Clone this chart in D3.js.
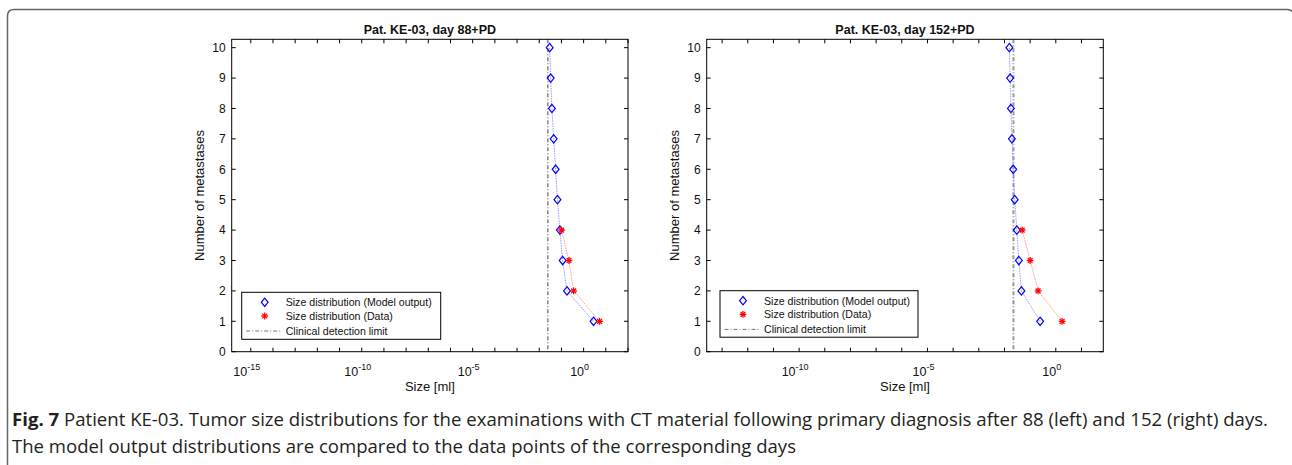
<!DOCTYPE html>
<html>
<head>
<meta charset="utf-8">
<script src="https://cdn.jsdelivr.net/npm/d3@7"></script>
<style>
  body { margin: 0; background: #fff; }
  svg { display: block; }
  .ax text { font-family: "Liberation Sans", Arial, sans-serif; }
</style>
</head>
<body>
<svg id="chart" width="1292" height="465"></svg>
<script>
// number of metastases (y values)
const counts = [1, 2, 3, 4, 5, 6, 7, 8, 9, 10];
const dataCounts = [1, 2, 3, 4];

// sizes in ml
const model88 = [2.8, 0.178, 0.1135, 0.085, 0.066, 0.055, 0.0447, 0.0372, 0.0327, 0.0295];
const data88 = [5.2, 0.355, 0.219, 0.100];
const model152 = [0.245, 0.0457, 0.0363, 0.0302, 0.0251, 0.0219, 0.0195, 0.0178, 0.0166, 0.0155];
const data152 = [1.76, 0.204, 0.100, 0.049];
const detectionLimit = [0.0245, 0.0224];

const titles = ['Pat. KE-03, day 88+PD', 'Pat. KE-03, day 152+PD'];
const xDomains = [[Math.pow(10, -15.86), 100], [Math.pow(10, -13.6), Math.pow(10, 1.85)]];
const yTicks = [0, 1, 2, 3, 4, 5, 6, 7, 8, 9, 10];
const legendLabels = ['Size distribution (Model output)', 'Size distribution (Data)', 'Clinical detection limit'];

const svg = d3.select('#chart');

// figure frame
svg.append('path')
  .attr('d', 'M7.5,470 V16 Q7.5,9.5 14,9.5 H1287 Q1292,9.5 1294,14')
  .attr('fill', 'none')
  .attr('stroke', '#666')
  .attr('stroke-width', 1.5);

const panels = [
  { left: 231.7, right: 628, model: model88, data: data88, det: detectionLimit[0], legend: { x: 241.7, y: 292.3, w: 199, h: 47 } },
  { left: 706.7, right: 1103.3, model: model152, data: data152, det: detectionLimit[1], legend: { x: 720, y: 290.7, w: 198, h: 46.5 } }
];
const plotTop = 39.3, plotBottom = 351.7;

const diamond = (cx, cy) => `M${cx},${cy - 4.2} L${cx + 3.4},${cy} L${cx},${cy + 4.2} L${cx - 3.4},${cy} Z`;
const star = (g, cx, cy) => {
  const r = 3.4;
  for (let i = 0; i < 4; i++) {
    const a = i * Math.PI / 4;
    g.append('line')
      .attr('x1', cx - r * Math.cos(a)).attr('y1', cy - r * Math.sin(a))
      .attr('x2', cx + r * Math.cos(a)).attr('y2', cy + r * Math.sin(a))
      .attr('stroke', '#ff0000').attr('stroke-width', 1.3);
  }
};

panels.forEach((p, i) => {
  const g = svg.append('g').attr('class', 'ax');
  const x = d3.scaleLog().domain(xDomains[i]).range([p.left, p.right]);
  const y = d3.scaleLinear().domain([0, 10.275]).range([plotBottom, plotTop]);

  // decade ticks inside, top and bottom
  const lo = Math.ceil(Math.log10(xDomains[i][0]));
  const hi = Math.floor(Math.log10(xDomains[i][1]));
  const decades = d3.range(lo, hi + 1);
  decades.forEach(k => {
    const px = x(Math.pow(10, k));
    g.append('line').attr('x1', px).attr('x2', px).attr('y1', plotBottom).attr('y2', plotBottom - 4).attr('stroke', '#000');
    g.append('line').attr('x1', px).attr('x2', px).attr('y1', plotTop).attr('y2', plotTop + 4).attr('stroke', '#000');
    if (k % 5 === 0) {
      const t = g.append('text')
        .attr('x', px - 4).attr('y', plotBottom + 24)
        .attr('text-anchor', 'middle')
        .attr('font-size', 12.5)
        .attr('fill', '#111');
      t.append('tspan').text('10');
      t.append('tspan').attr('dy', -5.5).attr('font-size', 9).text(k);
    }
  });

  yTicks.forEach(v => {
    const py = y(v);
    g.append('line').attr('x1', p.left).attr('x2', p.left + 4).attr('y1', py).attr('y2', py).attr('stroke', '#000');
    g.append('line').attr('x1', p.right).attr('x2', p.right - 4).attr('y1', py).attr('y2', py).attr('stroke', '#000');
    g.append('text')
      .attr('x', p.left - 6).attr('y', py + 4.3)
      .attr('text-anchor', 'end')
      .attr('font-size', 12)
      .attr('fill', '#111')
      .text(v);
  });

  // detection limit
  g.append('line')
    .attr('x1', x(p.det)).attr('x2', x(p.det))
    .attr('y1', plotTop).attr('y2', plotBottom)
    .attr('stroke', i === 0 ? '#333' : '#999')
    .attr('stroke-width', i === 0 ? 0.9 : 2)
    .attr('stroke-dasharray', '4,2,1,2');

  // model line + data line
  const line = d3.line().x(d => x(d[0])).y(d => y(d[1]));
  g.append('path')
    .datum(p.model.map((v, j) => [v, counts[j]]))
    .attr('d', line)
    .attr('fill', 'none')
    .attr('stroke', '#8080ff')
    .attr('stroke-width', 0.8)
    .attr('stroke-dasharray', '1.5,1');
  g.append('path')
    .datum(p.data.map((v, j) => [v, dataCounts[j]]))
    .attr('d', line)
    .attr('fill', 'none')
    .attr('stroke', '#ff8080')
    .attr('stroke-width', 0.8)
    .attr('stroke-dasharray', '1.5,1');

  p.model.forEach((v, j) => {
    g.append('path').attr('d', diamond(x(v), y(counts[j])))
      .attr('fill', 'none').attr('stroke', '#0000ff').attr('stroke-width', 1.2);
  });
  p.data.forEach((v, j) => star(g, x(v), y(dataCounts[j])));

  // box
  g.append('rect')
    .attr('x', p.left).attr('y', plotTop)
    .attr('width', p.right - p.left).attr('height', plotBottom - plotTop)
    .attr('fill', 'none').attr('stroke', '#000').attr('stroke-width', 1);

  // title and labels
  g.append('text')
    .attr('x', (p.left + p.right) / 2).attr('y', 34)
    .attr('text-anchor', 'middle')
    .attr('font-size', 12.5).attr('font-weight', 'bold')
    .attr('fill', '#111')
    .text(titles[i]);
  g.append('text')
    .attr('x', (p.left + p.right) / 2).attr('y', 391)
    .attr('text-anchor', 'middle')
    .attr('font-size', 13)
    .attr('fill', '#111')
    .text('Size [ml]');
  g.append('text')
    .attr('transform', `translate(${p.left - 28},${(plotTop + plotBottom) / 2}) rotate(-90)`)
    .attr('text-anchor', 'middle')
    .attr('font-size', 13)
    .attr('fill', '#111')
    .text('Number of metastases');

  // legend
  const L = p.legend;
  const lg = g.append('g');
  lg.append('rect')
    .attr('x', L.x).attr('y', L.y).attr('width', L.w).attr('height', L.h)
    .attr('fill', '#fff').attr('stroke', '#000').attr('stroke-width', 1);
  const mx = L.x + 23, tx = L.x + 44;
  const rows = [L.y + 10, L.y + 23.7, L.y + 38.7];
  lg.append('path').attr('d', diamond(mx, rows[0]))
    .attr('fill', 'none').attr('stroke', '#0000ff').attr('stroke-width', 1.2);
  star(lg, mx, rows[1]);
  lg.append('line')
    .attr('x1', L.x + 4.5).attr('x2', L.x + 40).attr('y1', rows[2]).attr('y2', rows[2])
    .attr('stroke', '#666').attr('stroke-width', 0.9)
    .attr('stroke-dasharray', '4,2,1,2');
  legendLabels.forEach((s, j) => {
    lg.append('text')
      .attr('x', tx).attr('y', rows[j] + 4)
      .attr('font-size', 10.6)
      .attr('fill', '#111')
      .text(s);
  });
});

// caption
const cap1 = svg.append('text')
  .attr('x', 12).attr('y', 426)
  .attr('font-family', '"Liberation Sans Narrow", "Open Sans", sans-serif')
  .attr('font-size', 18)
  .attr('fill', '#231f20')
  .attr('textLength', 1256)
  .attr('lengthAdjust', 'spacingAndGlyphs');
cap1.append('tspan').attr('font-weight', 'bold').text('Fig. 7');
cap1.append('tspan').text(' Patient KE-03. Tumor size distributions for the examinations with CT material following primary diagnosis after 88 (left) and 152 (right) days.');
svg.append('text')
  .attr('x', 12).attr('y', 453)
  .attr('font-family', '"Liberation Sans Narrow", "Open Sans", sans-serif')
  .attr('font-size', 18)
  .attr('fill', '#231f20')
  .attr('textLength', 784)
  .attr('lengthAdjust', 'spacingAndGlyphs')
  .text('The model output distributions are compared to the data points of the corresponding days');
</script>
</body>
</html>
